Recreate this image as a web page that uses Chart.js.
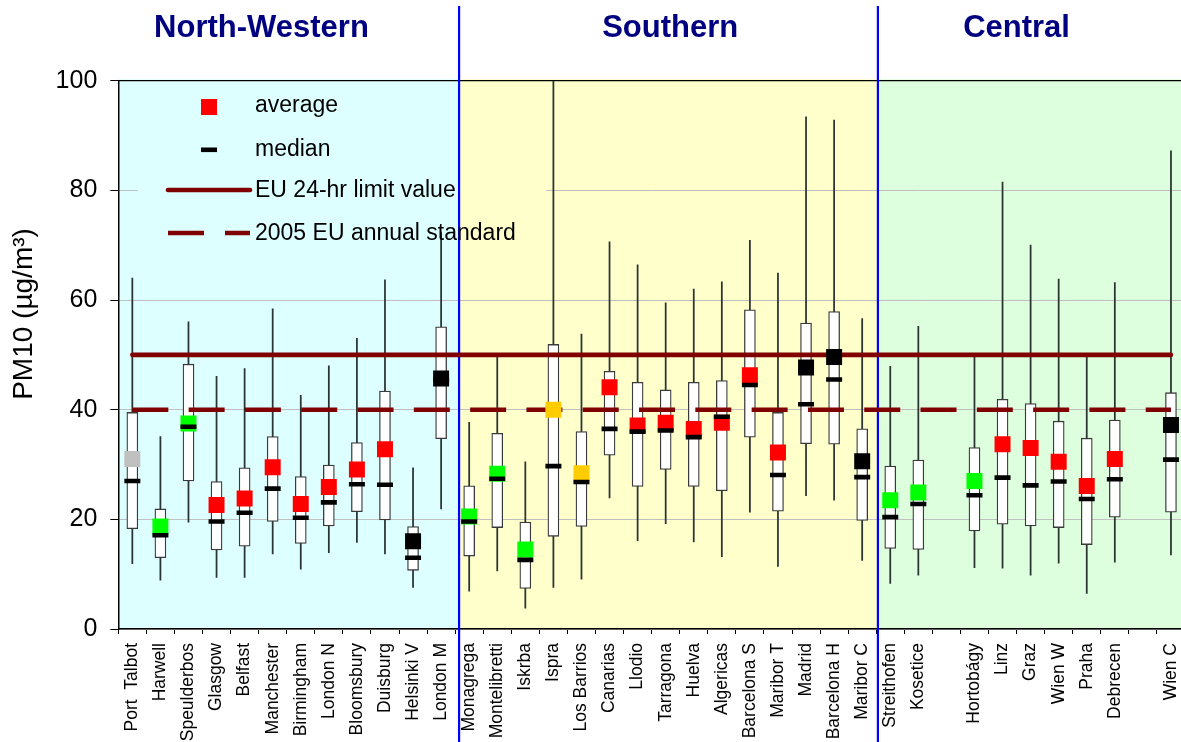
<!DOCTYPE html>
<html>
<head>
<meta charset="utf-8">
<title>PM10 by site</title>
<script src="https://cdn.jsdelivr.net/npm/chart.js@4.4.1/dist/chart.umd.min.js"></script>
<style>
  html, body { margin: 0; padding: 0; background: #fff; overflow: hidden; }
  canvas { display: block; }
</style>
</head>
<body>
<canvas id="pmChart" width="1185" height="742"></canvas>
<script>
// --- 1. DATA (PM10, µg/m³) ---
// empty strings are spacer slots between site groups
const sites = [
  'Port  Talbot', 'Harwell', 'Speulderbos', 'Glasgow', 'Belfast', 'Manchester',
  'Birmingham', 'London N', 'Bloomsbury', 'Duisburg', 'Helsinki V', 'London M',
  'Monagrega', 'Montelibretti', 'Iskrba', 'Ispra', 'Los Barrios', 'Canarias',
  'Llodio', 'Tarragona', 'Huelva', 'Algericas', 'Barcelona S', 'Maribor T',
  'Madrid', 'Barcelona H', 'Maribor C',
  'Streithofen', 'Kosetice', '', 'Hortobágy', 'Linz', 'Graz', 'Wien W',
  'Praha', 'Debrecen', '', 'Wien C'
];
const whiskerLow = [
  11.9, 8.9, 19.5, 9.4, 9.4, 13.7, 10.9, 13.9, 15.8, 13.7, 7.6, 21.9,
  6.9, 10.6, 3.8, 7.6, 9.1, 23.9, 16.1, 19.2, 15.9, 13.2, 21.3, 11.4, 24.3, 23.5, 12.5,
  8.3, 9.8, null, 11.2, 11.1, 9.8, 12.0, 6.5, 12.2, null, 13.5
];
const boxLow = [
  18.3, 13.0, 27.0, 14.4, 15.1, 19.6, 15.6, 18.8, 21.4, 19.9, 10.7, 34.7,
  13.3, 18.5, 7.4, 16.9, 18.7, 31.7, 26.0, 29.1, 26.0, 25.2, 35.0, 21.5, 33.8, 33.7, 19.8,
  14.7, 14.5, null, 17.9, 19.1, 18.8, 18.5, 15.4, 20.4, null, 21.3
];
const medians = [
  27.0, 17.1, 36.9, 19.6, 21.2, 25.6, 20.3, 23.1, 26.4, 26.3, 13.0, 45.5,
  19.6, 27.4, 12.6, 29.7, 26.8, 36.5, 36.0, 36.2, 35.0, 38.7, 44.5, 28.1, 41.0, 45.5, 27.7,
  20.4, 22.8, null, 24.4, 27.6, 26.2, 26.9, 23.7, 27.3, null, 30.9
];
const boxHigh = [
  39.5, 21.9, 48.3, 26.9, 29.4, 35.1, 27.8, 29.9, 34.0, 43.4, 18.7, 55.1,
  26.1, 35.7, 19.5, 51.9, 36.0, 47.0, 45.0, 43.6, 45.0, 45.3, 58.2, 39.5, 55.8, 57.9, 36.5,
  29.7, 30.8, null, 33.1, 41.9, 41.1, 37.9, 34.8, 38.1, null, 43.1
];
const whiskerHigh = [
  64.0, 35.1, 56.0, 46.1, 47.5, 58.4, 42.6, 48.0, 53.0, 63.7, 29.4, 72.3,
  37.7, 49.6, 30.5, 100, 53.8, 70.6, 66.4, 59.5, 62.0, 63.3, 70.9, 64.9, 93.4, 92.8, 56.6,
  47.9, 55.2, null, 49.6, 81.5, 70.0, 63.8, 49.6, 63.2, null, 87.2
];
const averages = [
  31.0, 18.7, 37.5, 22.6, 23.8, 29.5, 22.8, 25.9, 29.1, 32.8, 16.0, 45.7,
  20.5, 28.3, 14.5, 40.0, 28.4, 44.1, 37.1, 37.6, 36.5, 37.6, 46.3, 32.2, 47.7, 49.6, 30.6,
  23.5, 24.9, null, 27.0, 33.7, 33.0, 30.5, 26.1, 31.0, null, 37.2
];
// colour class of each average marker
const avgClass = [
  'grey', 'green', 'green', 'red', 'red', 'red', 'red', 'red', 'red', 'red', 'black', 'black',
  'green', 'green', 'green', 'amber', 'amber', 'red', 'red', 'red', 'red', 'red', 'red', 'red',
  'black', 'black', 'black',
  'green', 'green', null, 'green', 'red', 'red', 'red', 'red', 'red', null, 'black'
];
const yTicks = [0, 20, 40, 60, 80, 100];
const limit24h = 50;
const annualStd = 40;
const regionNames = ['North-Western', 'Southern', 'Central'];

// --- 2. STYLE SETTINGS ---
const FONT = "'Liberation Sans', Arial, sans-serif";
const avgColours = { grey: '#C0C0C0', green: '#00FF00', red: '#FF0000', black: '#000000', amber: '#FFCC00' };
const regionFill = ['#DDFFFF', '#FFFFCC', '#DDFFDD'];
const regionSplit = [11.64, 26.56];        // category positions of the blue dividers
const regionTitleAt = [4.6, 19.16, 31.5];  // category positions of the group headings
const limitColour = '#800000';

const pair = (lo, hi) => lo.map((v, i) => v == null ? null : [v, hi[i]]);

// --- 3. Background bands, dividers, legend and headings ---
const decorPlugin = {
  id: 'decor',
  beforeDraw(chart) {
    const { ctx, chartArea: a, scales: { x } } = chart;
    const edges = [a.left, ...regionSplit.map(v => x.getPixelForValue(v)), a.right];
    ctx.save();
    regionFill.forEach((c, i) => {
      ctx.fillStyle = c;
      ctx.fillRect(edges[i], a.top - 1.5, edges[i + 1] - edges[i], a.bottom - a.top + 1.5);
    });
    ctx.restore();
  },
  beforeDatasetsDraw(chart) {
    const { ctx, chartArea: a, scales: { x, y } } = chart;
    const edges = [a.left, ...regionSplit.map(v => x.getPixelForValue(v)), a.right];
    ctx.save();
    // legend area hides the 80 gridline
    const y80 = y.getPixelForValue(80);
    regionFill.forEach((c, i) => {
      const l = Math.max(edges[i], 138), r = Math.min(edges[i + 1], 546);
      if (r > l) { ctx.fillStyle = c; ctx.fillRect(l, y80 - 2, r - l, 4); }
    });
    // frame top
    ctx.strokeStyle = '#000';
    ctx.lineWidth = 1.3;
    ctx.beginPath();
    ctx.moveTo(a.left, a.top);
    ctx.lineTo(a.right, a.top);
    ctx.stroke();
    // group dividers
    ctx.strokeStyle = '#0000FF';
    ctx.lineWidth = 2.2;
    regionSplit.forEach(v => {
      const px = x.getPixelForValue(v);
      ctx.beginPath();
      ctx.moveTo(px, 6);
      ctx.lineTo(px, chart.height);
      ctx.stroke();
    });
    ctx.restore();
  },
  afterDatasetsDraw(chart) {
    const { ctx } = chart;
    ctx.save();
    ctx.fillStyle = avgColours.red;
    ctx.fillRect(201, 99, 16, 16);
    ctx.fillStyle = '#000';
    ctx.fillRect(201, 147.5, 16, 4.6);
    ctx.strokeStyle = limitColour;
    ctx.lineWidth = 4.6;
    ctx.lineCap = 'round';
    ctx.beginPath(); ctx.moveTo(168, 190); ctx.lineTo(250, 190); ctx.stroke();
    ctx.lineCap = 'butt';
    ctx.setLineDash([36, 21]);
    ctx.beginPath(); ctx.moveTo(168, 233); ctx.lineTo(250, 233); ctx.stroke();
    ctx.setLineDash([]);
    ctx.fillStyle = '#000';
    ctx.font = `23px ${FONT}`;
    ctx.textBaseline = 'middle';
    ctx.fillText('average', 255, 106);
    ctx.fillText('median', 255, 150);
    ctx.fillText('EU 24-hr limit value', 255, 191);
    ctx.fillText('2005 EU annual standard', 255, 234);
    ctx.restore();
  },
  afterDraw(chart) {
    const { ctx, scales: { x } } = chart;
    ctx.save();
    ctx.fillStyle = '#000080';
    ctx.font = `bold 31px ${FONT}`;
    ctx.textAlign = 'center';
    ctx.textBaseline = 'middle';
    regionNames.forEach((name, i) => ctx.fillText(name, x.getPixelForValue(regionTitleAt[i]), 28));
    // y axis title
    ctx.fillStyle = '#000';
    ctx.font = `28px ${FONT}`;
    ctx.translate(24, 314);
    ctx.rotate(-Math.PI / 2);
    ctx.fillText('PM10 (µg/m³)', 0, 0);
    ctx.restore();
  }
};

// --- 4. Chart ---
new Chart(document.getElementById('pmChart'), {
  type: 'bar',
  data: {
    labels: sites,
    datasets: [
      {
        type: 'line', label: 'median', data: medians, showLine: false,
        pointStyle: 'line', pointRadius: 8, pointBorderWidth: 4.6, pointBorderColor: '#000',
        order: 1
      },
      {
        type: 'line', label: 'average', data: averages, showLine: false,
        pointStyle: 'rect', pointRadius: 11.3, pointBorderWidth: 0,
        pointBackgroundColor: avgClass.map(c => avgColours[c] || 'transparent'),
        order: 2
      },
      {
        type: 'line', label: 'EU 24-hr limit value', data: sites.map(() => limit24h),
        borderColor: limitColour, borderWidth: 4.6, borderCapStyle: 'round', pointRadius: 0,
        order: 3
      },
      {
        type: 'line', label: '2005 EU annual standard', data: sites.map(() => annualStd),
        borderColor: limitColour, borderWidth: 4.6, borderDash: [36, 20.3], pointRadius: 0,
        order: 3
      },
      {
        type: 'bar', label: 'interquartile', data: pair(boxLow, boxHigh),
        backgroundColor: '#FFFFFF', borderColor: '#3a3a3a', borderWidth: 1.3,
        borderSkipped: false, barThickness: 11, grouped: false, order: 4
      },
      {
        type: 'bar', label: 'range', data: pair(whiskerLow, whiskerHigh),
        backgroundColor: '#2b3333', borderWidth: 0, barThickness: 1.1, grouped: false, order: 5
      }
    ]
  },
  options: {
    responsive: false,
    animation: false,
    events: [],
    layout: { autoPadding: false, padding: { top: 80.7, left: 0, right: 0, bottom: 0 } },
    plugins: { legend: { display: false }, tooltip: { enabled: false } },
    scales: {
      x: {
        type: 'category',
        offset: true,
        grid: { offset: true, drawOnChartArea: false, drawTicks: true, tickLength: 5, tickColor: '#000' },
        border: { color: '#000', width: 1.5 },
        ticks: {
          autoSkip: false, minRotation: 90, maxRotation: 90, padding: 9,
          color: '#000', font: { family: FONT, size: 17.5 }
        },
        afterFit: s => { s.height = 113; s.paddingLeft = 0; s.paddingRight = 0; }
      },
      y: {
        min: 0, max: 100,
        afterBuildTicks: s => { s.ticks = yTicks.map(v => ({ value: v })); },
        grid: { color: '#C0C0C0', lineWidth: 1, tickColor: '#000', tickLength: 8 },
        border: { color: '#000', width: 1.5 },
        ticks: { padding: 13, color: '#000', font: { family: FONT, size: 25 } },
        afterFit: s => { s.width = 118.3; }
      }
    }
  },
  plugins: [decorPlugin]
});
</script>
</body>
</html>
